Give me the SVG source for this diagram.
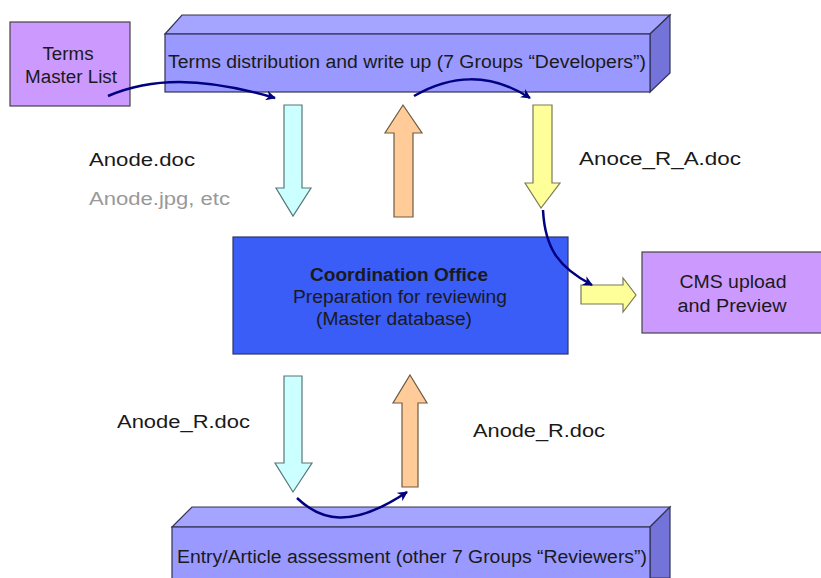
<svg xmlns="http://www.w3.org/2000/svg" width="821" height="578" viewBox="0 0 821 578">
<defs>
<style>
text{font-family:"Liberation Sans",Arial,sans-serif;fill:#1a1a1a}
.lbl{font-size:18px}
.bar-front{fill:#9999ff;stroke:#333355;stroke-width:1.2}
.bar-top{fill:#a5a5ff;stroke:#333355;stroke-width:1.2}
.bar-side{fill:#7373d9;stroke:#333355;stroke-width:1.2}
.violet{fill:#cc99ff;stroke:#444;stroke-width:1.2}
.cyan{fill:#ccffff;stroke:#557777;stroke-width:1.2}
.orange{fill:#ffcc99;stroke:#6e5a40;stroke-width:1.2}
.yellow{fill:#ffff99;stroke:#7a7a55;stroke-width:1.2}
.flow{fill:none;stroke:#000080;stroke-width:2.5}
</style>
<marker id="ah" viewBox="0 0 10 10" refX="9" refY="5" markerWidth="4" markerHeight="4" orient="auto" markerUnits="strokeWidth">
<path d="M0,0 L10,5 L0,10 L3,5 Z" fill="#000080"/>
</marker>
</defs>
<rect width="821" height="578" fill="#ffffff"/>

<g id="terms-master-list">
<rect class="violet" x="10" y="22" width="120" height="84"/>
<text x="68" y="60" text-anchor="middle" font-size="18" textLength="51" lengthAdjust="spacingAndGlyphs">Terms</text>
<text x="71" y="83" text-anchor="middle" font-size="18" textLength="92" lengthAdjust="spacingAndGlyphs">Master List</text>
</g>

<g id="developers">
<polygon class="bar-top" points="165,34 182,15 670,15 650,34"/>
<polygon class="bar-side" points="650,34 670,15 670,73 650,92"/>
<rect class="bar-front" x="165" y="34" width="485" height="58"/>
<text x="407" y="68" text-anchor="middle" font-size="18" textLength="478" lengthAdjust="spacingAndGlyphs">Terms distribution and write up (7 Groups “Developers”)</text>
</g>

<g id="coordination-office">
<rect x="233" y="237" width="335" height="117" fill="#3a5cf7" stroke="#333366" stroke-width="1.2"/>
<text x="399" y="281" text-anchor="middle" font-size="18" font-weight="bold" textLength="178" lengthAdjust="spacingAndGlyphs">Coordination Office</text>
<text x="400" y="303" text-anchor="middle" font-size="18" textLength="214" lengthAdjust="spacingAndGlyphs">Preparation for reviewing</text>
<text x="394" y="325" text-anchor="middle" font-size="18" textLength="156" lengthAdjust="spacingAndGlyphs">(Master database)</text>
</g>

<g id="cms-upload">
<rect class="violet" x="642" y="252" width="182" height="81"/>
<text x="733" y="288" text-anchor="middle" font-size="18" textLength="107" lengthAdjust="spacingAndGlyphs">CMS upload</text>
<text x="732" y="312" text-anchor="middle" font-size="18" textLength="109" lengthAdjust="spacingAndGlyphs">and Preview</text>
</g>

<g id="reviewers">
<polygon class="bar-top" points="172,527 192,507 670,507 650,527"/>
<polygon class="bar-side" points="650,527 670,507 670,578 650,578"/>
<rect class="bar-front" x="172" y="527" width="478" height="60"/>
<text x="412" y="563" text-anchor="middle" font-size="18" textLength="470" lengthAdjust="spacingAndGlyphs">Entry/Article assessment (other 7 Groups “Reviewers”)</text>
</g>

<g id="labels">
<text class="lbl" x="89" y="166" textLength="106" lengthAdjust="spacingAndGlyphs">Anode.doc</text>
<text class="lbl" x="89" y="205" textLength="141" lengthAdjust="spacingAndGlyphs" style="fill:#999999">Anode.jpg, etc</text>
<text class="lbl" x="579" y="165" textLength="162" lengthAdjust="spacingAndGlyphs">Anoce_R_A.doc</text>
<text class="lbl" x="117" y="428" textLength="133" lengthAdjust="spacingAndGlyphs">Anode_R.doc</text>
<text class="lbl" x="473" y="437" textLength="132" lengthAdjust="spacingAndGlyphs">Anode_R.doc</text>
</g>

<g id="connectors">
<polygon class="cyan" points="284,105 302,105 302,188 311,188 293,216 276,188 284,188"/>
<polygon class="orange" points="403,105 422,133 413,133 413,217 394,217 394,133 385,133"/>
<polygon class="yellow" points="533,105 552,105 552,183 560,183 541,208 525,183 533,183"/>
<polygon class="yellow" points="581,285 623,285 623,278 636,295 623,312 623,304 581,304"/>
<polygon class="cyan" points="284,376 302,376 302,463 312,463 293,492 275,463 284,463"/>
<polygon class="orange" points="410,375 427,403 418,403 418,487 402,487 402,403 393,403"/>
<path class="flow" d="M108,96 C150,78 200,76 275,98" marker-end="url(#ah)"/>
<path class="flow" d="M414,96 C450,75 490,72 530,98" marker-end="url(#ah)"/>
<path class="flow" d="M543,210 C545,250 560,268 592,285" marker-end="url(#ah)"/>
<path class="flow" d="M297,498 C320,520 350,530 407,492" marker-end="url(#ah)"/>
</g>
</svg>
